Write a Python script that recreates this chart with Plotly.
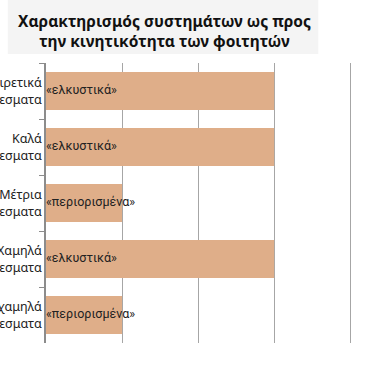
import plotly.graph_objects as go

categories = ["Εξαιρετικά<br>αποτελεσματα", "Καλά<br>αποτελεσματα", "Μέτρια<br>αποτελεσματα",
              "Χαμηλά<br>αποτελεσματα", "Πολύ χαμηλά<br>αποτελεσματα"]
values = [3, 3, 1, 3, 1]
bar_labels = ["«ελκυστικά»", "«ελκυστικά»", "«περιορισμένα»", "«ελκυστικά»", "«περιορισμένα»"]
title_text = "Χαρακτηρισμός συστημάτων ως προς<br>την κινητικότητα των φοιτητών"

BAR = "#DFAE89"
GRID = "#A6A6A6"
FONT = "Noto Sans"
LFONT = "Roboto"

fig = go.Figure()
fig.add_trace(go.Bar(y=categories, x=values, orientation="h", marker=dict(color=BAR, line=dict(width=0)),
                     width=0.68, hoverinfo="skip"))
fig.add_trace(go.Scatter(y=categories, x=[0] * len(categories), mode="text", text=bar_labels,
                         textposition="middle right", textfont=dict(family=LFONT, size=12.5, color="#222222"),
                         hoverinfo="skip", cliponaxis=False))

fig.add_shape(type="rect", xref="paper", yref="paper", x0=-0.124, x1=0.884, y0=1.032, y1=1.23,
              fillcolor="#F4F4F4", line=dict(width=0), layer="below")
fig.add_annotation(text="<b>" + title_text + "</b>", xref="paper", yref="paper", x=0.385, y=1.114,
                   xanchor="center", yanchor="middle",
                   showarrow=False, font=dict(family=FONT, size=15.5, color="#111111"), align="center")

fig.update_layout(
    width=368, height=374, margin=dict(l=46, r=14, t=63, b=31),
    paper_bgcolor="white", plot_bgcolor="white", showlegend=False, bargap=0.32,
    xaxis=dict(range=[0, 4.05], dtick=1, tick0=0, showgrid=True, gridcolor=GRID, gridwidth=1,
               showticklabels=False, zeroline=False, showline=False, ticks=""),
    yaxis=dict(autorange="reversed", tickson="boundaries", ticks="outside", ticklen=5, tickcolor="#8C8C8C",
               showline=True, linecolor="#8C8C8C", linewidth=1.5, showgrid=False,
               tickfont=dict(family=FONT, size=12.5, color="#222222"), automargin=False),
)
fig.write_html("out.html", config={"displayModeBar": False},
               post_script="document.body.style.margin='0';")
